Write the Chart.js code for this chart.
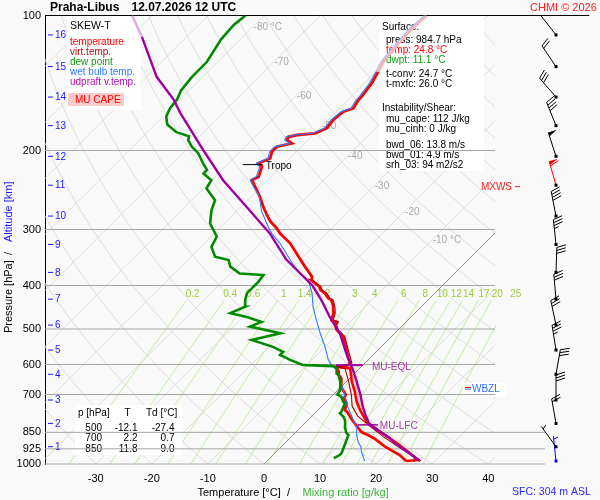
<!DOCTYPE html>
<html>
<head>
<meta charset="utf-8">
<title>Skew-T Praha-Libus</title>
<script src="https://cdn.jsdelivr.net/npm/chart.js@4.4.1/dist/chart.umd.min.js"></script>
<style>
  html, body { margin: 0; padding: 0; background: #f9f9f9; }
  canvas { display: block; }
</style>
</head>
<body>
<canvas id="skewt" width="600" height="500"></canvas>
<script>
// ---- axes / labels ----
const pTicks = [100, 200, 300, 400, 500, 600, 700, 850, 925, 1000];
const tTicks = [-30, -20, -10, 0, 10, 20, 30, 40];
const altKm = [1, 2, 3, 4, 5, 6, 7, 8, 9, 10, 11, 12, 13, 14, 15, 16];
const altP = [915, 812, 720, 631, 557, 490, 429, 374, 324, 280, 239, 206, 176, 152, 130, 110.5];
const isoLabelT = [-80, -70, -60, -50, -40, -30, -20, -10];
const isoLabelP = [106, 127, 151, 177, 206.5, 240, 274, 317];
const mixRatios = [0.2, 0.4, 0.6, 1, 1.4, 2, 3, 4, 6, 8, 10, 12, 14, 17, 20, 25];
const mixLabels = ['0.2', '0.4', '0.6', '1', '1.4', '2', '3', '4', '6', '8', '10', '12', '14', '17', '20', '25'];

// ---- sounding (surface upwards) ----
const tempP = [984.7, 955, 915, 876, 862, 850, 826, 798, 765, 758, 732, 714, 700, 678, 644, 633, 623, 607, 602, 596,
  580, 557, 520, 502, 490, 482, 478, 461, 446, 431, 427, 416, 409, 402, 389, 382, 363, 348, 336, 322, 306, 298, 288,
  278.5, 267, 253.6, 241, 232.7, 228.8, 217.3, 213.6, 208.2, 201.2, 196.1, 192.8, 189.5, 186.4, 184.7, 183.1, 178.5,
  171, 163.9, 161.1, 154.3, 151.7, 141.6, 133.5, 126.7, 116.4, 107.7, 100];
const tempT = [24.8, 22.6, 18.5, 15.0, 13.4, 11.8, 10.0, 7.9, 5.5, 4.8, 3.9, 2.6, 2.2, 0.4, -1.5, -2.6, -3.1, -4.5, -2.6, -2.6,
  -3.9, -5.6, -8.6, -11.0, -12.1, -12.4, -13.6, -14.5, -15.7, -17.2, -18.1, -19.6, -21.0, -21.8, -24.4, -24.9, -27.9, -30.3,
  -32.3, -34.7, -38.3, -39.8, -42.1, -43.9, -46.0, -48.4, -51.0, -52.8, -52.2, -53.4, -54.6, -53.4, -54.3, -54.3, -52.2,
  -53.7, -54.0, -52.8, -49.9, -48.7, -49.0, -48.7, -47.5, -48.1, -48.1, -48.7, -49.6, -50.5, -51.0, -51.3, -51.0];

const tvP = [984.7, 966, 915, 869, 818, 781, 743, 702, 655, 612, 607, 602, 596, 557, 520, 502, 490, 482, 478, 461, 446,
  431, 427, 416, 409, 402, 389];
const tvT = [26.3, 25.6, 20.9, 16.4, 11.6, 8.1, 5.4, 3.3, 0.4, -2.6, -4.4, -2.3, -2.3, -5.3, -8.3, -10.7, -11.8, -12.1,
  -13.3, -14.2, -15.4, -16.9, -17.8, -19.3, -20.7, -21.5, -24.1];

const trP = [984.7, 980, 939, 892, 847, 805, 758, 726, 690, 655, 612, 607];
const trT = [24.8, 26.8, 23.5, 19.4, 14.9, 10.8, 7.5, 5.4, 3.3, 0.96, -1.7, -4.5];

const tdP = [970, 955, 946, 907, 862, 850, 826, 818, 798, 784, 771, 765, 732, 726, 708, 700, 684, 678, 672, 655, 633, 628,
  612, 605, 602, 601, 586, 571, 562, 548, 529, 511, 494, 482, 470, 461, 446, 431, 416, 409, 392, 379, 376, 363, 351, 345,
  328, 311, 291, 272, 258, 243, 233, 225, 221, 214, 203, 196, 189.5, 186, 182, 175, 168, 161, 154, 147, 137, 127, 113, 105, 100];
const tdT = [11.4, 11.9, 11.9, 11.0, 9.9, 9.0, 7.8, 7.5, 6.6, 5.7, 4.5, 4.5, 3.6, 3.0, 1.8, 0.7, 0.4, 0.05, -0.2, -1.1, -2.6,
  -3.2, -4.1, -5.1, -10.0, -10.9, -13.9, -16.6, -16.6, -19.3, -24.3, -20.4, -27.0, -25.8, -29.3, -32.9, -31.4, -32.6, -33.5,
  -33.5, -33.5, -33.8, -38.3, -41.2, -42.7, -45.7, -48.1, -49.0, -52.5, -54.6, -55.8, -59.4, -60.0, -62.6, -62.6, -64.4,
  -67.1, -69.5, -71.3, -71.8, -74.8, -77.8, -79.4, -80.2, -80.5, -81.4, -81.9, -81.9, -83.4, -83.7, -83.3];

const wbP = [984.7, 939, 915, 892, 854, 832, 798, 745, 696, 650, 617, 602, 586, 548, 511, 478, 446, 416, 389, 376, 351, 322,
  306, 291, 272, 254, 241, 232.7, 228.8, 217.3, 213.6, 208.2, 201.2, 196.1, 192.8, 189.5, 186.4, 184.7, 183.1, 178.5, 171,
  163.9, 161.1, 154.3, 151.7, 141.6, 133.5, 126.7, 116.4, 107.7, 100];
const wbT = [17.4, 15.2, 14.2, 12.8, 11.0, 10.2, 8.1, 4.7, 1.7, -1.4, -3.8, -5.6, -7.1, -10.0, -13.3, -16.3, -19.3, -21.9,
  -24.9, -27.6, -31.7, -36.5, -39.8, -42.4, -45.7, -48.4, -51.3, -53.1, -52.6, -53.8, -55.0, -53.8, -54.7, -54.7, -52.6,
  -54.1, -54.4, -53.2, -50.3, -49.1, -49.4, -49.1, -47.9, -48.5, -48.5, -49.1, -50.0, -50.9, -51.4, -51.7, -51.4];

const upP = [984.7, 940, 900, 876, 818, 780, 745, 700, 668, 650, 617, 600, 571, 560, 511, 470, 431, 400, 350, 306, 267,
  233, 200, 165, 154, 137, 111.5, 100];
const upT = [27.3, 23.5, 19.7, 17.9, 11.9, 9.5, 7.4, 4.8, 2.7, 1.5, -0.9, -2.3, -4.7, -5.6, -9.8, -14.5, -19.0, -23.2,
  -32.5, -40.1, -49.0, -57.9, -66.7, -77.5, -81.1, -88.2, -98.0, -103.5];

// wind profile: surface, then 1..16 km
const windP = [984.7, 915, 812, 720, 631, 557, 490, 429, 374, 324, 280, 239, 206, 176, 152, 130, 110.5];
const windDir = [354, 324, 350, 360, 10, 351, 348, 355, 2, 354, 349, 344, 342, 338, 319, 326, 322];
const windKt = [5, 5, 20, 30, 30, 35, 30, 30, 30, 35, 40, 60, 50, 40, 30, 20, 0];

const tableP = [500, 700, 850];
const tableT = [-12.1, 2.2, 11.8];
const tableTd = [-27.4, 0.7, 9.0];

const LFC_P = 818, EQL_P = 602, TROPO_P = 215, MXWS_P = 242, ZERO_P = 675, WBZ_P = 681;

// ---- helpers ----
const SKEW = 80;                // degC of shift per decade of pressure (45 deg isotherms)
const X_MIN = -39.05, X_MAX = 41.2;
const MIX_TOP = 432;
const FONT = '"Liberation Sans", Arial, Helvetica, sans-serif';
const fnt = (s, b) => (b ? 'bold ' : '') + s + 'px ' + FONT;

function skewX(t, p) { return t + SKEW * Math.log10(1000 / p); }
function profile(ps, ts) { return ps.map((p, i) => ({ x: skewX(ts[i], p), y: p })); }
function mixTd(w, p) {
  const e = w * p / (622 + w), l = Math.log(e / 6.112);
  return 243.5 * l / (17.67 - l);
}
function interpT(ps, ts, p) {
  for (let i = 1; i < ps.length; i++) {
    if ((ps[i - 1] - p) * (ps[i] - p) <= 0) {
      const f = Math.log(p / ps[i - 1]) / Math.log(ps[i] / ps[i - 1]);
      return ts[i - 1] + f * (ts[i] - ts[i - 1]);
    }
  }
  return ts[ts.length - 1];
}

const datasets = [];
function addLine(data, color, width, extra) {
  datasets.push(Object.assign({
    data, showLine: true, borderColor: color, borderWidth: width,
    pointRadius: 0, pointHoverRadius: 0, fill: false, order: 100
  }, extra || {}));
}

// background grid: isotherms, dry adiabats, mixing ratio lines
for (let t = -120; t <= 40; t += 10) {
  addLine([{ x: t, y: 1000 }, { x: t + SKEW, y: 100 }], t === 0 ? '#707070' : '#d5d5d5', 0.8);
}
const sampleP = [];
for (let i = 0; i <= 36; i++) sampleP.push(1000 * Math.pow(10, -i / 36));
for (let th = -40; th <= 190; th += 10) {
  addLine(sampleP.map(p => ({ x: skewX((th + 273.15) * Math.pow(p / 1000, 0.2857) - 273.15, p), y: p })), '#d5d5d5', 0.8);
}
const mixSampleP = [1000, 925, 850, 775, 700, 625, 550, 490, MIX_TOP];
mixRatios.forEach(w => {
  addLine(mixSampleP.map(p => ({ x: skewX(mixTd(w, p), p), y: p })), '#b2ee8a', 0.8,
    { clip: { left: 0, top: 0, right: 30, bottom: 2 } });
});
// pressure levels
pTicks.forEach(p => {
  const end = p === 100 ? 58 : (p >= 850 ? 50.1 : X_MAX);
  addLine([{ x: X_MIN, y: p }, { x: end, y: p }], p === 100 ? '#000000' : '#a6a6a6', 1,
    { order: 50, clip: { left: 0, top: 2, right: 100, bottom: 2 } });
});

// CAPE area between parcel and environment
const capePts = profile(upP, upT).filter(d => d.y <= LFC_P && d.y >= 609)
  .concat(profile(trP, trT).filter(d => d.y <= LFC_P && d.y >= 609).reverse());
addLine(capePts, 'rgba(0,0,0,0)', 1, { order: 10, fill: 'shape', backgroundColor: 'rgba(255,150,150,0.42)' });

addLine(profile(trP, trT), '#ff0000', 2.6, { order: 9 });
addLine(profile(tempP, tempT), '#ff0000', 2.8, {
  order: 8, segment: { borderColor: c => c.p1.parsed.y < 132 ? '#ffb0b0' : '#ff0000' }
});
addLine(profile(tvP, tvT), '#a00000', 1.1, { order: 7 });
addLine(profile(wbP, wbT), '#2f7bff', 1.1, {
  order: 6, segment: { borderColor: c => c.p1.parsed.y < 132 ? '#9fc3ff' : '#2f7bff' }
});
addLine(profile(tdP, tdT), '#008a00', 2.6, { order: 5 });
addLine(profile(upP, upT), '#a000a0', 2.4, {
  order: 4, segment: { borderColor: c => c.p1.parsed.y < 110 ? '#e2a6e2' : '#a000a0' }
});

// ---- drawing of texts, panels and winds ----
function text(c, s, x, y, color, font, align) {
  c.fillStyle = color; c.font = font; c.textAlign = align || 'left'; c.textBaseline = 'middle';
  c.fillText(s, x, y);
}
function hline(c, x1, x2, y, color, w) {
  c.strokeStyle = color; c.lineWidth = w || 1;
  c.beginPath(); c.moveTo(x1, y); c.lineTo(x2, y); c.stroke();
}

function drawPanels(chart) {
  const c = chart.ctx, X = chart.scales.x, Y = chart.scales.y;
  c.save();
  c.fillStyle = '#ffffff';
  c.fillRect(67, 16, 74, 94);
  c.fillRect(379, 16, 105, 155);
  c.fillRect(75, 405, 107, 50);
  c.fillRect(463, 383, 44, 14);
  c.fillStyle = '#ffcaca';
  c.fillRect(68, 93, 56, 13);

  text(c, 'SKEW-T', 70, 26.5, '#000', fnt(10.5));
  text(c, 'temperature', 70, 42, '#ff0000', fnt(10));
  text(c, 'virt.temp.', 70, 52, '#aa1111', fnt(10));
  text(c, 'dew point', 70, 62, '#129a12', fnt(10));
  text(c, 'wet bulb temp.', 70, 72, '#2f7bff', fnt(10));
  text(c, 'udpraft v.temp.', 70, 82, '#b010b0', fnt(10));
  text(c, 'MU CAPE', 75, 100, '#ff0000', fnt(10));

  const surf = [
    ['Surface:', 382, 27, '#000'], ['press: 984.7 hPa', 386, 40.5, '#000'],
    ['temp: 24.8 °C', 386, 50.5, '#ff0000'], ['dwpt: 11.1 °C', 386, 60.5, '#129a12'],
    ['t-conv: 24.7 °C', 386, 74.5, '#000'], ['t-mxfc: 26.0 °C', 386, 84.5, '#000'],
    ['Instability/Shear:', 382, 108, '#000'], ['mu_cape: 112 J/kg', 386, 119.5, '#000'],
    ['mu_cinh: 0 J/kg', 386, 129.5, '#000'], ['bwd_06: 13.8 m/s', 386, 145, '#000'],
    ['bwd_01: 4.9 m/s', 386, 155, '#000'], ['srh_03: 94 m2/s2', 386, 165, '#000']
  ];
  surf.forEach(r => text(c, r[0], r[1], r[2], r[3], fnt(10)));

  text(c, 'p [hPa]', 78, 413.5, '#000', fnt(10));
  text(c, 'T', 124.5, 413.5, '#000', fnt(10));
  text(c, 'Td [°C]', 146, 413.5, '#000', fnt(10));
  tableP.forEach((p, i) => {
    const y = 428 + i * 10.5;
    text(c, String(p), 102, y, '#000', fnt(10), 'right');
    text(c, tableT[i].toFixed(1), 137.5, y, '#000', fnt(10), 'right');
    text(c, tableTd[i].toFixed(1), 174.5, y, '#000', fnt(10), 'right');
  });

  // isotherm labels
  isoLabelT.forEach((t, i) => {
    const p = isoLabelP[i];
    const s = (i === 0 || i === isoLabelT.length - 1) ? t + ' °C' : String(t);
    text(c, s, X.getPixelForValue(skewX(t, p)) + 1, Y.getPixelForValue(p), '#a8a8a8', fnt(10));
  });
  // mixing ratio labels
  mixRatios.forEach((w, i) => {
    text(c, mixLabels[i], X.getPixelForValue(skewX(mixTd(w, MIX_TOP), MIX_TOP)) + 6,
      Y.getPixelForValue(MIX_TOP) - 6.5, '#9acd32', fnt(10), 'center');
  });
  c.restore();
}

function drawBarb(c, x, y, dir, kt, color) {
  const a = dir * Math.PI / 180;
  const ux = Math.sin(a), uy = -Math.cos(a);
  const qx = -uy, qy = ux;
  const L = 25, ex = x + ux * L, ey = y + uy * L;
  c.strokeStyle = color; c.fillStyle = color; c.lineWidth = 1;
  c.beginPath(); c.moveTo(x, y); c.lineTo(ex, ey); c.stroke();
  let s = Math.round(kt / 5) * 5, pos = 0;
  while (s >= 50) {
    const bx = ex - ux * pos, by = ey - uy * pos;
    c.beginPath(); c.moveTo(bx, by); c.lineTo(bx + qx * 9, by + qy * 9); c.lineTo(bx - ux * 4, by - uy * 4);
    c.closePath(); c.fill();
    pos += 5; s -= 50;
  }
  while (s >= 10) {
    const bx = ex - ux * pos, by = ey - uy * pos;
    c.beginPath(); c.moveTo(bx, by); c.lineTo(bx + qx * 9 + ux * 3, by + qy * 9 + uy * 3); c.stroke();
    pos += 3; s -= 10;
  }
  if (s >= 5) {
    if (pos === 0) pos = 3;
    const bx = ex - ux * pos, by = ey - uy * pos;
    c.beginPath(); c.moveTo(bx, by); c.lineTo(bx + qx * 4.5 + ux * 1.5, by + qy * 4.5 + uy * 1.5); c.stroke();
  }
}

function drawOverlay(chart) {
  const c = chart.ctx, X = chart.scales.x, Y = chart.scales.y, A = chart.chartArea;
  c.save();
  // altitude scale
  altKm.forEach((k, i) => {
    const y = Y.getPixelForValue(altP[i]);
    hline(c, A.left + 3, A.left + 8, y, '#1a1aff', 1);
    text(c, String(k), A.left + 10, y + 0.5, '#1a1aff', fnt(10));
  });

  // tropopause
  const yt = Y.getPixelForValue(TROPO_P), xt = X.getPixelForValue(skewX(interpT(tempP, tempT, TROPO_P), TROPO_P));
  hline(c, xt - 17, xt + 3, yt, '#000', 1);
  text(c, 'Tropo', xt + 6, yt + 2, '#000', fnt(10));

  // parcel levels
  const ye = Y.getPixelForValue(EQL_P), xe = X.getPixelForValue(skewX(interpT(upP, upT, EQL_P), EQL_P));
  hline(c, xe - 15, xe + 12, ye, '#a000a0', 2);
  text(c, 'MU-EQL', xe + 21, ye + 2, '#a040a0', fnt(10));
  const yl = Y.getPixelForValue(LFC_P), xl = X.getPixelForValue(skewX(interpT(upP, upT, LFC_P), LFC_P));
  hline(c, xl - 12, xl + 8, yl, '#a000a0', 1.5);
  text(c, 'MU-LFC', xl + 10, yl + 1.5, '#a040a0', fnt(10));

  // freezing / wet bulb zero
  hline(c, A.right - 30, A.right - 24, Y.getPixelForValue(ZERO_P), '#ff0000', 1);
  hline(c, A.right - 30, A.right - 24, Y.getPixelForValue(WBZ_P), '#2f6fe8', 1);
  text(c, 'WBZL', A.right - 23, Y.getPixelForValue(WBZ_P) + 0.5, '#2f6fe8', fnt(10));

  // max wind
  const ym = Y.getPixelForValue(MXWS_P);
  text(c, 'MXWS', A.right + 17, ym, '#ff2020', fnt(10), 'right');
  hline(c, A.right + 20, A.right + 25, ym - 1, '#ff2020', 1);

  // wind barbs
  const bx = A.right + 61;
  windP.forEach((p, i) => {
    const y = Y.getPixelForValue(p);
    const col = i === 0 ? '#0000ff' : (i === 11 ? '#ff0000' : '#000000');
    drawBarb(c, bx, y, windDir[i], windKt[i], col);
  });
  windP.forEach((p, i) => {
    c.fillStyle = i === 0 ? '#0000ff' : '#000';
    c.fillRect(bx - 1.5, Y.getPixelForValue(p) - 1.5, 3, 3);
  });

  // titles
  text(c, 'Praha-Libus', 50, 7.5, '#000', fnt(12, true));
  text(c, '12.07.2026 12 UTC', 131.5, 7.5, '#000', fnt(12, true));
  text(c, 'CHMI © 2026', 530, 7.5, '#ff2020', fnt(11));
  text(c, 'SFC: 304 m ASL', 512, 492, '#2a2aff', fnt(10.5));

  text(c, 'Temperature [°C]', 197.5, 492.5, '#000', fnt(11));
  text(c, '/', 287, 492.5, '#000', fnt(11));
  text(c, 'Mixing ratio [g/kg]', 302.5, 492.5, '#3cb43c', fnt(11));

  c.translate(8.5, 333);
  c.rotate(-Math.PI / 2);
  text(c, 'Pressure [hPa]', 0, 0, '#000', fnt(11));
  text(c, '/', 78, 0, '#000', fnt(11));
  text(c, 'Altitude [km]', 91, 0, '#1a1aff', fnt(11));
  c.restore();
}

let panelsDone = false;
const decor = {
  id: 'decor',
  beforeDraw(chart) {
    const c = chart.ctx;
    c.save(); c.fillStyle = '#f9f9f9'; c.fillRect(0, 0, chart.width, chart.height); c.restore();
    panelsDone = false;
  },
  beforeDatasetDraw(chart, args) {
    if (!panelsDone && chart.data.datasets[args.index].order === 50) {
      panelsDone = true;
      drawPanels(chart);
    }
  },
  afterDatasetsDraw(chart) { drawOverlay(chart); }
};

new Chart(document.getElementById('skewt'), {
  type: 'scatter',
  data: { datasets },
  options: {
    responsive: false,
    animation: false,
    devicePixelRatio: 1,
    events: [],
    layout: { padding: { left: 0, right: 105, top: 15.5, bottom: 0 } },
    plugins: { legend: { display: false }, tooltip: { enabled: false } },
    scales: {
      x: {
        type: 'linear', min: X_MIN, max: X_MAX,
        afterFit: s => { s.height = 36; },
        afterBuildTicks: s => { s.ticks = tTicks.map(v => ({ value: v })); },
        grid: { display: false, drawTicks: false },
        border: { display: false },
        ticks: { color: '#000', font: { family: FONT, size: 11 }, padding: 8, autoSkip: false, maxRotation: 0,
          callback: v => String(v) }
      },
      y: {
        type: 'logarithmic', min: 100, max: 1000, reverse: true,
        afterFit: s => { s.width = 45; },
        afterBuildTicks: s => { s.ticks = pTicks.map(v => ({ value: v })); },
        grid: { display: false, drawTicks: false },
        border: { display: true, color: '#000', width: 1 },
        ticks: { color: '#000', font: { family: FONT, size: 11 }, padding: 4, autoSkip: false,
          callback: v => String(v) }
      }
    }
  },
  plugins: [decor]
});
</script>
</body>
</html>
